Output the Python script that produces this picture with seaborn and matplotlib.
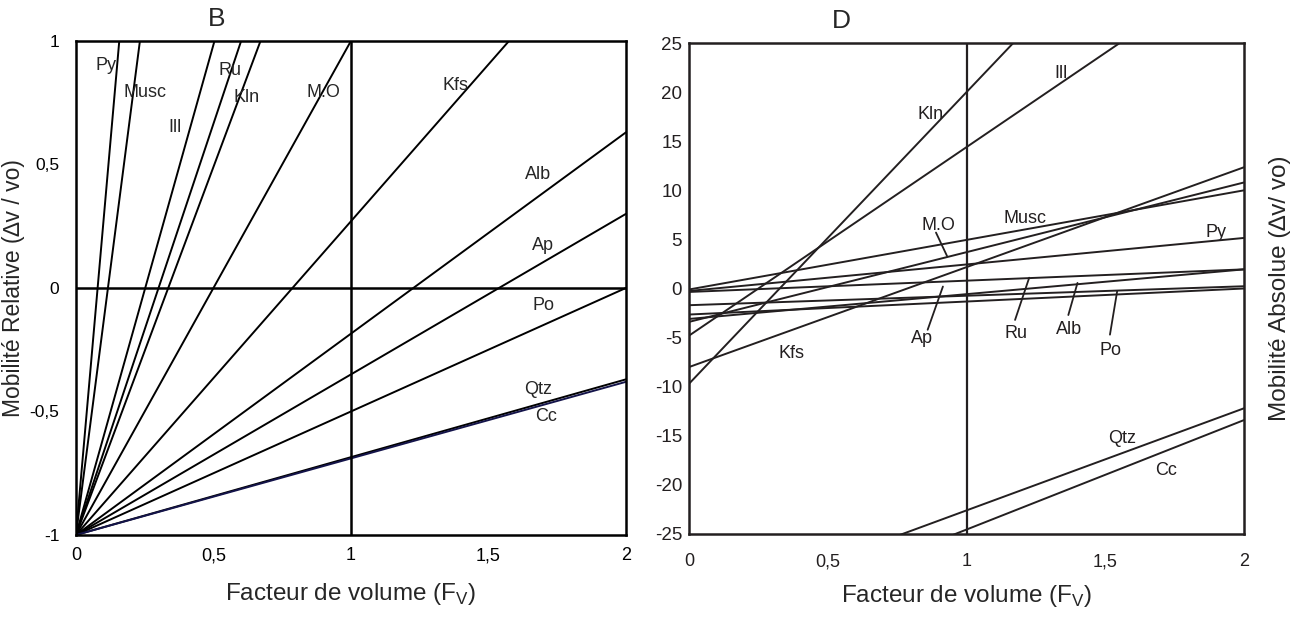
import numpy as np
import pandas as pd
import matplotlib.pyplot as plt
import seaborn as sns

minerals = ["Py", "Musc", "Ill", "Ru", "Kln", "M.O", "Kfs", "Alb", "Ap", "Po", "Qtz", "Cc"]
fv_ends = [0.0, 2.0]

# panel B : relative mobility at Fv = 0 and Fv = 2
rel_at0 = [-1, -1, -1, -1, -1, -1, -1, -1, -1, -1, -1, -1]
rel_at2 = [24.4, 16.2, 6.94, 5.66, 4.96, 3.0, 1.54, 0.63, 0.30, 0.0, -0.37, -0.38]

# panel D : absolute mobility at Fv = 0 and Fv = 2
abs_at0 = [-0.25, -0.1, -4.8, -0.35, -9.7, -3.4, -8.0, -3.1, -1.7, -2.65, -33.0, -35.7]
abs_at2 = [5.15, 10.0, 33.6, 1.95, 49.7, 10.8, 12.35, 1.95, 0.23, 0.0, -12.2, -13.4]

# label positions (Fv, value)
rel_lab_x = [0.11, 0.25, 0.36, 0.56, 0.62, 0.90, 1.38, 1.68, 1.70, 1.70, 1.68, 1.71]
rel_lab_y = [0.90, 0.79, 0.65, 0.88, 0.77, 0.79, 0.82, 0.46, 0.17, -0.07, -0.41, -0.52]
abs_lab_x = [1.90, 1.21, 1.34, 1.18, 0.87, 0.90, 0.37, 1.37, 0.84, 1.52, 1.56, 1.72]
abs_lab_y = [5.7, 7.1, 21.9, -4.6, 17.7, 6.4, -6.6, -4.2, -5.1, -6.3, -15.3, -18.5]
# leader lines for panel D labels: (x0, y0, x1, y1)
leaders = {
    "M.O": (0.89, 5.7, 0.93, 3.3),
    "Ap": (0.86, -4.2, 0.915, 0.2),
    "Ru": (1.175, -3.2, 1.226, 1.1),
    "Alb": (1.367, -2.7, 1.40, 0.57),
    "Po": (1.517, -4.7, 1.543, -0.27),
}


def long_table(at0, at2):
    rows = []
    for m, a, b in zip(minerals, at0, at2):
        rows.append({"mineral": m, "Fv": fv_ends[0], "val": a})
        rows.append({"mineral": m, "Fv": fv_ends[1], "val": b})
    return pd.DataFrame(rows)


sns.set_style("white")
plt.rcParams["font.family"] = ["Liberation Sans", "DejaVu Sans"]
plt.rcParams["mathtext.fontset"] = "custom"
plt.rcParams["mathtext.rm"] = "Liberation Sans"
plt.rcParams["axes.unicode_minus"] = False

fig = plt.figure(figsize=(13.03, 6.23), dpi=100)
axB = fig.add_axes([0.0583, 0.1413, 0.4221, 0.793])
axD = fig.add_axes([0.5288, 0.1429, 0.4259, 0.788])

# ---- panel B ----
dfB = long_table(rel_at0, rel_at2)
palB = {m: "black" for m in minerals}
palB["Cc"] = "#14144a"
sns.lineplot(data=dfB, x="Fv", y="val", hue="mineral", palette=palB,
             legend=False, lw=1.4, ax=axB, estimator=None, sort=False)
axB.axhline(0, color="black", lw=1.8)
axB.axvline(1, color="black", lw=1.8)
axB.set_xlim(0, 2)
axB.set_ylim(-1, 1)
axB.set_xticks([0, 0.5, 1, 1.5, 2])
axB.set_xticklabels(["0", "0,5", "1", "1,5", "2"])
axB.set_yticks([-1, -0.5, 0, 0.5, 1])
axB.set_yticklabels(["-1", "-0,5", "0", "0,5", "1"])
axB.tick_params(axis="y", direction="out", length=6, width=1.2, labelsize=12.5, pad=6)
axB.tick_params(axis="x", direction="in", length=6, width=1.2, labelsize=13, pad=9)
axB.set_xlabel(r"Facteur de volume (F$_\mathregular{V}$)", fontsize=17.5, labelpad=12)
axB.set_ylabel("Mobilité Relative (∆v / vo)", fontsize=16.5)
axB.yaxis.set_label_coords(-0.092, 0.5)
axB.text(0.256, 1.045, "B", transform=axB.transAxes, ha="center", va="center", fontsize=19)
for m, x, y in zip(minerals, rel_lab_x, rel_lab_y):
    axB.text(x, y, m, ha="center", va="center", fontsize=13)

# ---- panel D ----
ink = "#231f20"
dfD = long_table(abs_at0, abs_at2)
sns.lineplot(data=dfD, x="Fv", y="val", hue="mineral",
             palette={m: ink for m in minerals}, legend=False, lw=1.4,
             ax=axD, estimator=None, sort=False)
axD.axvline(1, color=ink, lw=1.6)
axD.set_xlim(0, 2)
axD.set_ylim(-25, 25)
axD.set_xticks([0, 0.5, 1, 1.5, 2])
axD.set_xticklabels(["0", "0,5", "1", "1,5", "2"])
axD.set_yticks(np.arange(-25, 26, 5))
axD.tick_params(axis="y", direction="out", length=4, width=1.2, labelsize=13.5, pad=1)
axD.tick_params(axis="x", direction="out", length=4, width=1.2, labelsize=13, pad=10)
axD.set_xlabel(r"Facteur de volume (F$_\mathregular{V}$)", fontsize=17.5, labelpad=9)
axD.yaxis.set_label_position("right")
axD.set_ylabel("Mobilité Absolue (∆v/ vo)", fontsize=17.5, labelpad=18)
axD.text(0.274, 1.045, "D", transform=axD.transAxes, ha="center", va="center", fontsize=19)
for m, x, y in zip(minerals, abs_lab_x, abs_lab_y):
    axD.text(x, y, m, ha="center", va="center", fontsize=13, color=ink)
for m, (x0, y0, x1, y1) in leaders.items():
    axD.plot([x0, x1], [y0, y1], color=ink, lw=1.3)

for ax, col in ((axB, "black"), (axD, ink)):
    for s in ax.spines.values():
        s.set_color(col)
        s.set_linewidth(1.8)
    ax.tick_params(colors=col)

fig.savefig("out.png", dpi=100)
